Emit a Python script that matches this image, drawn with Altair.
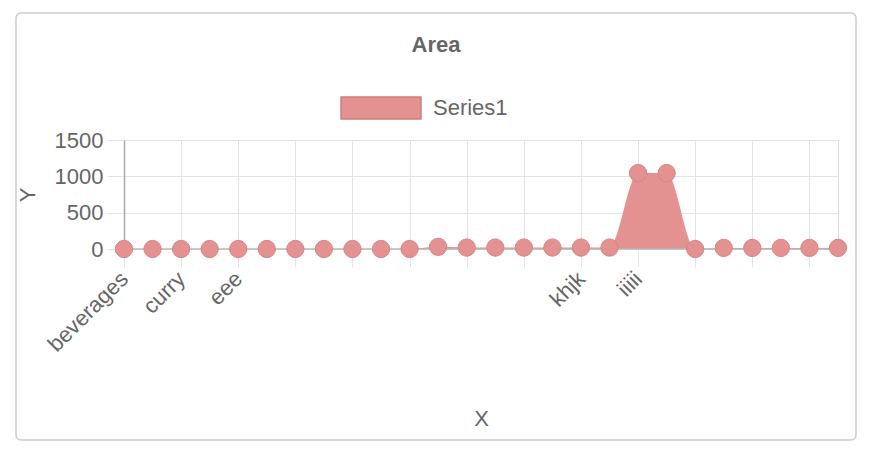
import json
import altair as alt
import pandas as pd

# ---- data ----
labels = ["beverages", "", "curry", "", "eee", "", "", "", "", "", "",
          "", "", "", "", "", "khjk", "", "iiiii", "", "", "", "", "", "", ""]
values = [0, 0, 0, 0, 0, 0, 0, 0, 0, 0, 0,
          30, 20, 20, 20, 20, 20, 20, 1045, 1045, 0,
          15, 15, 15, 15, 15]
series_name = "Series1"
y_ticks = [0, 500, 1000, 1500]

df = pd.DataFrame({"idx": list(range(len(values))), "value": values,
                   "series": [series_name] * len(values)})

FONT = "Liberation Sans"
TXT = "#666666"
FILL = "#e49191"
GRID = "#e4e4e4"

x_enc = alt.X(
    "idx:O",
    scale=alt.Scale(type="point", padding=0),
    axis=alt.Axis(
        title="X", values=list(range(0, len(values), 2)),
        labelExpr=json.dumps(labels) + "[datum.value]",
        labelAngle=-45, labelAlign="right", labelBaseline="middle",
        labelFontSize=22, labelColor=TXT, labelFont=FONT, labelPadding=8,
        tickSize=18, tickColor=GRID, grid=True, gridColor=GRID,
        domain=False, labelOverlap=False,
        titleFontSize=22, titleFontWeight="normal", titleColor=TXT, titleFont=FONT,
        titleX=357, titleY=169, titleBaseline="middle", titleAlign="center",
    ),
)
y_enc = alt.Y(
    "value:Q",
    scale=alt.Scale(domain=[0, 1500], nice=False, zero=True),
    axis=alt.Axis(
        title="Y", values=y_ticks, tickCount=len(y_ticks), format="d",
        labelFontSize=22, labelColor=TXT, labelFont=FONT, labelPadding=4,
        labelOverlap=False, labelFlush=False, labelBound=False,
        tickSize=17, tickColor=GRID, grid=True, gridColor=GRID,
        domain=True, domainColor="#a8a8a8", domainWidth=1.5,
        titleFontSize=22, titleFontWeight="normal", titleColor=TXT, titleFont=FONT,
        titleX=-97, titleY=54.5, titleAngle=-90, titleBaseline="middle", titleAlign="center",
    ),
)

base = alt.Chart(df).encode(x=x_enc, y=y_enc)

area = base.mark_area(interpolate="monotone", opacity=1).encode(
    color=alt.Color(
        "series:N",
        scale=alt.Scale(domain=[series_name], range=[FILL]),
        legend=alt.Legend(
            title=None, orient="none", legendX=216, legendY=-73,
            symbolType="M-1,-0.275L1,-0.275L1,0.275L-1,0.275Z", symbolSize=6400,
            symbolStrokeColor="#c98080", symbolStrokeWidth=1.5, symbolOpacity=1,
            labelFontSize=22, labelColor=TXT, labelFont=FONT, labelOffset=11,
            padding=0,
        ),
    ),
)

zero_line = base.mark_line(color="#b8b8b8", strokeWidth=1.5).encode(
    y=alt.Y("zero:Q", scale=alt.Scale(domain=[0, 1500], nice=False, zero=True))
).transform_calculate(zero="0")

points = base.mark_circle(size=300, color=FILL, stroke="#d88585",
                          strokeWidth=1, opacity=1)

box = alt.Chart(alt.Data(values=[{}])).mark_rect(
    fill="transparent", stroke="#cccccc", strokeWidth=1.5, cornerRadius=5
).encode(x=alt.value(-108), x2=alt.value(732), y=alt.value(-127), y2=alt.value(300))

chart = alt.layer(box, area, zero_line, points).properties(
    width=714, height=109,
    title=alt.TitleParams("Area", anchor="middle", dx=-45, offset=-55,
                          fontSize=22, fontWeight="bold", color=TXT, font=FONT,
                          baseline="middle"),
    padding={"left": 116, "top": 132, "right": 20, "bottom": 199},
    autosize=alt.AutoSizeParams(type="none"),
).configure_view(stroke=GRID).configure(background="white")

chart.save("out.html", embed_options={"renderer": "svg", "actions": False})
